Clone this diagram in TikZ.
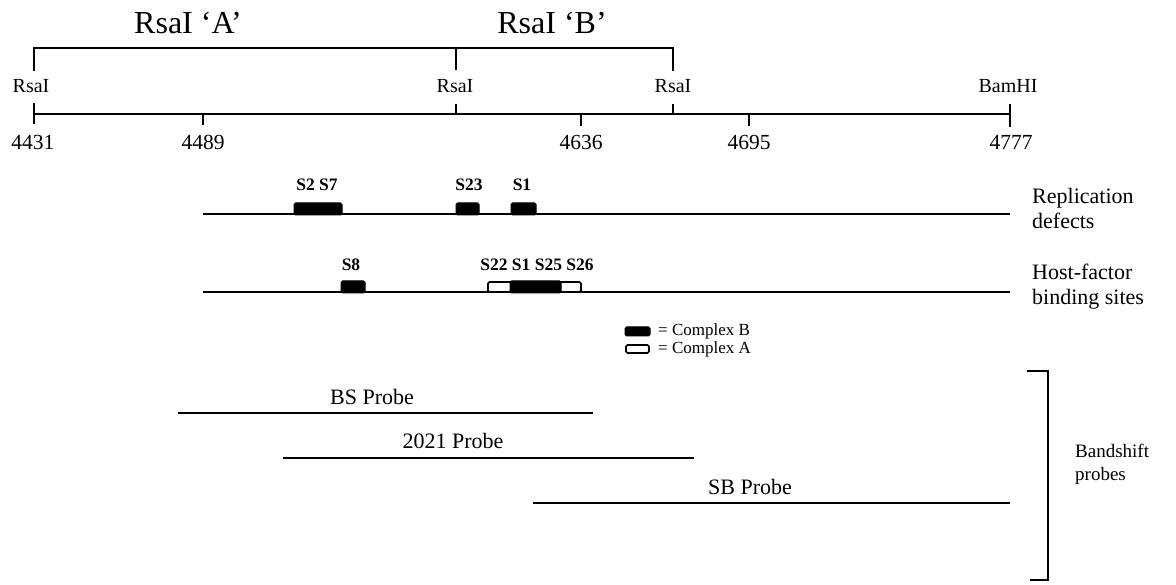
\documentclass[tikz,border=0pt]{standalone}
\usepackage{fontspec}
\setmainfont{Liberation Serif}
\begin{document}
\begin{tikzpicture}[x=1pt,y=-1pt,
  ln/.style={line width=2.2pt},
  tk/.style={line width=1.8pt},
  big/.style={font=\fontsize{32}{35}\selectfont, inner sep=0pt},
  site/.style={font=\fontsize{20}{23}\selectfont, inner sep=0pt},
  numl/.style={font=\fontsize{21.5}{24}\selectfont, inner sep=0pt},
  slab/.style={font=\bfseries\fontsize{17.5}{20}\selectfont, inner sep=0pt},
  side/.style={font=\fontsize{22}{25}\selectfont, align=left, anchor=west, inner sep=0pt},
  plab/.style={font=\fontsize{22}{25}\selectfont, inner sep=0pt},
  legt/.style={font=\fontsize{17}{19}\selectfont, anchor=west, inner sep=0pt},
  cb/.style={fill=black, draw=black, line width=1pt, rounded corners=1.5pt},
  ca/.style={fill=white, draw=black, line width=1.6pt, rounded corners=1.5pt},
]
\useasboundingbox (0,0) rectangle (1176,585);

% top bracket
\coordinate (bL) at (34,48);
\coordinate (bM) at (456,48);
\coordinate (bR) at (673,48);
\coordinate (bLd) at (34,71);
\coordinate (bMd) at (456,70);
\coordinate (bRd) at (673,71);
\draw[ln] (bLd) -- (bL) -- (bR) -- (bRd);
\draw[ln] (bM) -- (bMd);
\node[big] (ra) at (188,23) {RsaI ‘A’};
\node[big] (rb) at (552,23) {RsaI ‘B’};

% site labels
\node[site] (s1) at (31,86) {RsaI};
\node[site] (s2) at (455,86) {RsaI};
\node[site] (s3) at (673,86) {RsaI};
\node[site] (s4) at (1008,86) {BamHI};

% axis
\coordinate (a0) at (34,114);
\coordinate (a1) at (1010,114);
\draw[ln] (a0) -- (a1);
\coordinate (t1a) at (34,103);  \coordinate (t1b) at (34,124);
\coordinate (t2a) at (203,114); \coordinate (t2b) at (203,125);
\coordinate (t3a) at (456,104); \coordinate (t3b) at (456,114);
\coordinate (t4a) at (581,114); \coordinate (t4b) at (581,126);
\coordinate (t5a) at (673,104); \coordinate (t5b) at (673,114);
\coordinate (t6a) at (749,114); \coordinate (t6b) at (749,126);
\coordinate (t7a) at (1010,104); \coordinate (t7b) at (1010,127);
\foreach \t in {1,...,7} {\draw[tk] (t\t a) -- (t\t b);}
\node[numl] (n1) at (33,142) {4431};
\node[numl] (n2) at (203,142) {4489};
\node[numl] (n3) at (581,142) {4636};
\node[numl] (n4) at (749,142) {4695};
\node[numl] (n5) at (1011,142) {4777};

% replication defects
\coordinate (r0) at (203,214);
\coordinate (r1) at (1010,214);
\draw[ln] (r0) -- (r1);
\draw[cb] (294,203) rectangle (342,215);
\draw[cb] (456,203) rectangle (479,215);
\draw[cb] (511,203) rectangle (536,215);
\node[slab] (l27) at (317,185) {S2 S7};
\node[slab] (l23) at (469,185) {S23};
\node[slab] (l1) at (522,185) {S1};
\node[side] (rep) at (1032,208) {Replication\\defects};

% host-factor binding sites
\coordinate (h0) at (203,292);
\coordinate (h1) at (1010,292);
\draw[ln] (h0) -- (h1);
\draw[cb] (341,281) rectangle (365,293);
\draw[ca] (488,282) rectangle (581,292);
\draw[cb] (510,281) rectangle (561,293);
\node[slab] (l8) at (351,265) {S8};
\node[slab] (l22) at (537,265) {S22 S1 S25 S26};
\node[side] (host) at (1032,287) {Host-factor\\binding sites};

% legend
\draw[cb] (625,327) rectangle (650,336);
\draw[ca] (626,345) rectangle (649,353);
\node[legt] (lb) at (658,331) {= Complex B};
\node[legt] (la) at (658,349) {= Complex A};

% probes
\coordinate (p1a) at (178,413); \coordinate (p1b) at (593,413);
\coordinate (p2a) at (283,458); \coordinate (p2b) at (694,458);
\coordinate (p3a) at (533,503); \coordinate (p3b) at (1010,503);
\draw[ln] (p1a) -- (p1b);
\draw[ln] (p2a) -- (p2b);
\draw[ln] (p3a) -- (p3b);
\node[plab] (bs) at (372,397) {BS Probe};
\node[plab] (p2021) at (453,441) {2021 Probe};
\node[plab] (sb) at (750,487) {SB Probe};

% right bracket
\coordinate (k0) at (1027,371);
\coordinate (k1) at (1048,371);
\coordinate (k2) at (1048,580);
\coordinate (k3) at (1030,580);
\draw[ln] (k0) -- (k1) -- (k2) -- (k3);
\node[side, font=\fontsize{19}{23}\selectfont] (band) at (1075,464) {Bandshift\\probes};
\end{tikzpicture}
\end{document}
